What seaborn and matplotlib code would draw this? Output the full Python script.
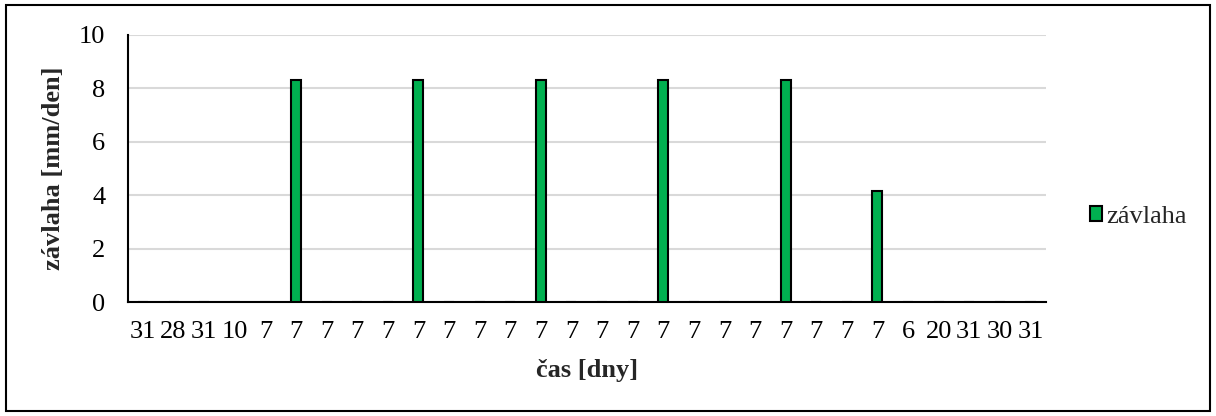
import pandas as pd
import seaborn as sns
import matplotlib.pyplot as plt
from matplotlib.patches import Rectangle, Patch

# data
dny = [31, 28, 31, 10, 7, 7, 7, 7, 7, 7, 7, 7, 7, 7, 7, 7, 7, 7, 7, 7, 7, 7, 7, 7, 7, 6, 20, 31, 30, 31]
zavlaha = [0, 0, 0, 0, 0, 8.33, 0, 0, 0, 8.33, 0, 0, 0, 8.33, 0, 0, 0, 8.33,
           0, 0, 0, 8.33, 0, 0, 4.17, 0, 0, 0, 0, 0]

df = pd.DataFrame({"idx": range(len(dny)), "zavlaha": zavlaha})

sns.set_style("white")
plt.rcParams["font.family"] = ["Liberation Serif", "DejaVu Serif"]

fig, ax = plt.subplots(figsize=(12.16, 4.16), dpi=100)
fig.subplots_adjust(left=0.105, right=0.860, top=0.916, bottom=0.274)

green = "#00b050"
sns.barplot(data=df, x="idx", y="zavlaha", color=green, width=0.33,
            edgecolor="black", linewidth=1.5, saturation=1, ax=ax, zorder=3)

ax.set_ylim(0, 10)
ax.set_yticks([0, 2, 4, 6, 8, 10])
ax.set_xlim(-0.5, len(dny) - 0.5)
ax.set_xticks(range(len(dny)))
ax.set_xticklabels([str(d) for d in dny])
ax.tick_params(axis="both", labelsize=19, length=0, colors="black")
ax.tick_params(axis="x", pad=14)
ax.tick_params(axis="y", pad=16)

ax.yaxis.grid(True, color="#d9d9d9", linewidth=1.5, zorder=0)
ax.set_axisbelow(True)
for s in ["top", "right"]:
    ax.spines[s].set_visible(False)
for s in ["left", "bottom"]:
    ax.spines[s].set_color("black")
    ax.spines[s].set_linewidth(1.5)

ax.set_xlabel("čas [dny]", fontsize=19, fontweight="bold", labelpad=11)
ax.set_ylabel("závlaha [mm/den]", fontsize=19, fontweight="bold", labelpad=10)

handle = Patch(facecolor=green, edgecolor="black", linewidth=1.5, label="závlaha")
fig.legend(handles=[handle], loc="center left", bbox_to_anchor=(0.896, 0.478),
           frameon=False, fontsize=19, handlelength=0.48, handleheight=0.48,
           handletextpad=0.15, borderpad=0, borderaxespad=0)

fig.patches.append(Rectangle((0.005, 0.012), 0.99, 0.976, transform=fig.transFigure,
                             fill=False, edgecolor="black", linewidth=1.5))

fig.savefig("out.png", dpi=100)
